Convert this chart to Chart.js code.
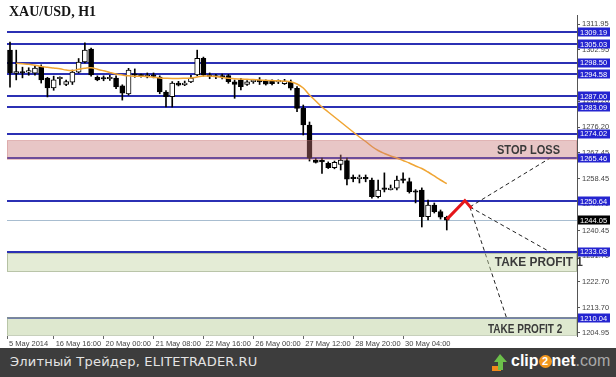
<!DOCTYPE html>
<html><head><meta charset="utf-8">
<script src="https://cdn.jsdelivr.net/npm/chart.js@4"></script>
<style>
html,body{margin:0;padding:0;background:#fff;}
#wrap{position:relative;width:616px;height:377px;overflow:hidden;background:#fff;}
#c{position:absolute;left:0;top:0;}
#title{position:absolute;left:9px;top:4px;font:bold 14px "Liberation Serif",serif;color:#151515;}
#foot{position:absolute;left:0;top:348px;width:616px;height:29px;background:#3d3d3d;}
#foot .t{position:absolute;left:10px;top:6px;font:13px "DejaVu Sans",sans-serif;color:#e4e4e4;white-space:nowrap;letter-spacing:0.2px;}
#logo{position:absolute;left:491px;top:4px;height:20px;white-space:nowrap;font:bold 16px "Liberation Sans",Arial,sans-serif;color:#fff;}
#logo svg{position:absolute;left:0;top:1px;}
#logo .w{position:absolute;left:20px;top:0;}
#logo .two{display:inline-block;width:13px;height:13px;border-radius:50%;background:#f2961c;color:#fff;font-size:11px;line-height:13px;text-align:center;vertical-align:1px;}
#logo .com{font-weight:normal;color:#a9a9a9;}
</style></head>
<body><div id="wrap">
<canvas id="c" width="616" height="348"></canvas>
<div id="title">XAU/USD, H1</div>
<div id="foot"><div class="t">Элитный Трейдер, ELITETRADER.RU</div>
<div id="logo"><svg width="18" height="20" viewBox="0 0 18 20"><rect x="1" y="13" width="9" height="5" fill="#f08a1a"/><polygon points="9,1 16,9 12,9 12,17 7,17 7,9 3,9" fill="#6cc04a"/></svg><span class="w">clip<span class="two">2</span>net<span class="com">.com</span></span></div>
</div>
</div>
<script>
// ---- data ----
const opens  = [1302.95,1294.8,1295.3,1295.3,1294.9,1297.1,1293.2,1289.8,1293.0,1291.0,1291.8,1295.3,1298.8,1303.3,1293.5,1293.0,1293.0,1293.2,1290.5,1287.7,1294.4,1294.1,1293.6,1294.0,1293.6,1288.4,1286.8,1291.5,1290.9,1291.9,1294.3,1300.1,1294.2,1293.8,1293.7,1294.05,1291.97,1292.56,1291.07,1292.0,1292.0,1292.2,1292.2,1291.9,1291.3,1291.76,1289.69,1282.76,1276.98,1264.86,1264.3,1263.7,1262.2,1263.3,1264.62,1258.9,1258.4,1258.6,1257.93,1252.15,1255.0,1254.6,1255.06,1258.1,1257.35,1254.1,1254.47,1245.23,1249.28,1246.96,1245.02];
const highs  = [1305.7,1302.9,1297.0,1296.8,1297.3,1297.8,1293.5,1293.9,1293.7,1292.5,1296.0,1300.0,1305.4,1303.6,1294.0,1294.0,1294.2,1294.0,1290.9,1296.6,1296.4,1294.6,1295.0,1295.0,1294.0,1288.9,1292.0,1292.1,1292.2,1294.2,1302.9,1300.5,1295.0,1294.5,1294.6,1294.53,1292.56,1293.15,1292.4,1292.8,1293.4,1292.6,1292.6,1292.6,1292.8,1292.56,1290.24,1283.9,1278.02,1265.45,1265.55,1264.2,1264.5,1266.59,1265.55,1259.67,1259.67,1259.67,1258.6,1257.93,1260.4,1256.2,1259.3,1260.4,1258.6,1254.6,1255.2,1251.0,1249.97,1247.55,1245.4];
const lows   = [1290.1,1292.6,1293.3,1294.2,1294.2,1291.5,1286.7,1289.0,1290.9,1290.6,1291.0,1295.0,1298.5,1293.9,1292.3,1292.3,1292.4,1289.6,1285.6,1287.3,1293.5,1293.5,1293.3,1293.3,1287.8,1283.2,1283.2,1290.5,1290.6,1291.6,1294.0,1293.9,1293.0,1293.0,1292.9,1291.42,1286.22,1289.1,1290.7,1291.4,1291.0,1290.8,1290.9,1291.3,1291.0,1289.1,1281.58,1273.52,1264.5,1263.8,1260.25,1261.9,1261.8,1261.4,1256.2,1257.3,1256.9,1257.3,1251.6,1251.7,1253.8,1254.47,1254.47,1256.9,1253.4,1250.0,1241.66,1244.08,1246.5,1244.4,1240.62];
const closes = [1294.98,1295.5,1295.0,1295.5,1296.7,1292.6,1289.8,1292.6,1293.3,1292.0,1295.3,1298.8,1302.9,1294.3,1292.6,1292.9,1293.2,1290.2,1288.0,1296.0,1294.2,1293.9,1294.3,1293.8,1288.4,1286.8,1291.5,1290.8,1291.5,1293.2,1300.1,1294.3,1293.8,1293.6,1293.6,1291.97,1291.07,1290.24,1291.97,1292.2,1291.9,1291.1,1291.3,1292.0,1292.2,1289.69,1282.76,1276.98,1265.45,1264.06,1264.2,1262.2,1264.06,1264.86,1258.18,1258.4,1258.7,1258.3,1252.15,1254.47,1254.7,1254.8,1257.93,1257.8,1253.9,1253.7,1245.23,1249.28,1246.96,1245.02,1244.05];
const maValues = [null,1298.34,1298.17,1298.0,1297.68,1297.23,1296.99,1296.71,1296.44,1296.02,1295.85,1296.26,1296.61,1296.78,1296.30,1295.75,1295.16,1294.64,1294.29,1294.01,1293.88,1293.84,1293.77,1293.53,1293.25,1293.15,1293.08,1293.08,1293.15,1293.25,1293.60,1293.95,1293.95,1293.77,1293.43,1293.15,1292.97,1292.91,1292.80,1292.70,1292.56,1292.46,1292.35,1292.28,1292.14,1291.94,1291.17,1289.79,1287.37,1285.29,1283.21,1281.48,1279.75,1278.02,1276.29,1274.55,1272.82,1271.26,1269.53,1268.15,1267.11,1266.24,1265.55,1264.69,1263.82,1262.78,1261.92,1260.70,1259.32,1257.93,1256.65];
const xTickIndex  = [7,15,23,31,39,47,55,63];
const xTickLabels = ['16 May 16:00','20 May 00:00','21 May 08:00','22 May 16:00','26 May 00:00','27 May 12:00','28 May 20:00','30 May 04:00'];
const firstTickLabel = '5 May 2014';
const yTickValues = [1311.95,1302.95,1294.20,1285.20,1276.20,1267.45,1258.45,1249.70,1240.45,1231.70,1222.70,1213.70,1204.95];
const levelValues = [1309.19,1305.03,1298.50,1294.58,1287.00,1283.09,1274.02,1265.46,1250.64,1233.08,1210.04];
const currentPrice = 1244.05;
const stopLossBand = [1271.7,1265.1];
const tp1Band = [1232.6,1226.2];
const tp2Band = [1210.4,1204.2];
const arrowX = [70,72.9,74.0];
const arrowY = [1244.3,1250.8,1248.1];
const projFrom = {x:73.7, y:1248.6};
const projToX = [86.5,86.5,79.6];
const projToY = [1265.46,1233.08,1210.04];
const bandTexts = ['STOP LOSS','TAKE PROFIT 1','TAKE PROFIT 2'];
const bandTextX = [78.05,77.7,76.6];
const bandTextY = [1266.95,1228.15,1205.06];
const bandTextSpan = [10.1,14.1,11.9];   // text extent in candle units

// ---- scale limits ----
const xMin = -0.48, xMax = 90.87, yMin = 1203.91, yMax = 1315.07;

const bodies = opens.map((o,i)=>({x:i, y:[Math.min(o,closes[i]), Math.max(o,closes[i])]}));
const wicks  = opens.map((o,i)=>({x:i, y:[lows[i], highs[i]]}));
const bodyColors = opens.map((o,i)=> closes[i] >= o ? '#ffffff' : '#000000');
const maData = maValues.map((v,i)=>({x:i,y:v})).filter(p=>p.y!==null);
const arrowData = arrowX.map((x,i)=>({x, y:arrowY[i]}));

const projSets = projToX.map((x,i)=>({
  type:'line', data:[projFrom,{x, y:projToY[i]}], borderColor:'#222', borderWidth:1,
  borderDash:[4,3], pointRadius:0, fill:false, order:-1
}));

const levelsPlugin = {
  id:'levels',
  beforeDatasetsDraw(chart){
    const {ctx, chartArea:a, scales:{y}} = chart;
    ctx.save();
    ctx.beginPath(); ctx.rect(a.left, a.top, a.right-a.left, a.bottom-a.top); ctx.clip();
    let py = Math.round(y.getPixelForValue(currentPrice))+0.5;
    ctx.strokeStyle='#a8bdd0'; ctx.lineWidth=1;
    ctx.beginPath(); ctx.moveTo(a.left,py); ctx.lineTo(a.right,py); ctx.stroke();
    ctx.strokeStyle='#2b30b4'; ctx.lineWidth=2;
    levelValues.forEach(v=>{
      const p = Math.round(y.getPixelForValue(v));
      ctx.beginPath(); ctx.moveTo(a.left,p); ctx.lineTo(a.right,p); ctx.stroke();
    });
    ctx.restore();
  },
  afterDatasetsDraw(chart){
    const {ctx, chartArea:a, scales:{y}} = chart;
    ctx.save();
    const band=(b,fill,stroke)=>{
      const t=y.getPixelForValue(b[0]), bt=y.getPixelForValue(b[1]);
      ctx.fillStyle=fill; ctx.fillRect(a.left,t,a.right-a.left,bt-t);
      ctx.strokeStyle=stroke; ctx.lineWidth=1;
      ctx.strokeRect(a.left+0.5,Math.round(t)+0.5,a.right-a.left-1,Math.round(bt-t));
    };
    band(stopLossBand,'rgba(200,120,120,0.42)','rgba(200,120,120,0.35)');
    band(tp1Band,'rgba(195,213,165,0.45)','rgba(150,165,130,0.6)');
    band(tp2Band,'rgba(190,210,160,0.5)','rgba(150,165,130,0.5)');
    ctx.restore();
  },
  afterDraw(chart){
    const {ctx, chartArea:a, scales:{x,y}} = chart;
    ctx.save();
    ctx.fillStyle='#3a3a3a';
    ctx.font='bold 12.5px "Liberation Sans",sans-serif';
    ctx.textAlign='left'; ctx.textBaseline='alphabetic';
    bandTexts.forEach((t,i)=>{
      const x0 = x.getPixelForValue(bandTextX[i]);
      const w = x.getPixelForValue(bandTextX[i]+bandTextSpan[i]) - x0;
      ctx.fillText(t, x0, y.getPixelForValue(bandTextY[i]), w);
    });
    ctx.font='7.5px "Liberation Sans",sans-serif';
    ctx.textBaseline='middle';
    const box=(v,col)=>{
      const p=y.getPixelForValue(v);
      ctx.fillStyle=col; ctx.fillRect(a.right+1, Math.round(p)-4.5, 32, 9);
      ctx.fillStyle='#ffffff'; ctx.fillText(v.toFixed(2), a.right+3, p+0.5);
    };
    levelValues.forEach(v=>box(v,'#2424d0'));
    box(currentPrice,'#000000');
    ctx.restore();
  }
};

new Chart(document.getElementById('c'), {
  type:'bar',
  data:{ datasets:[
    {type:'line', data:maData, borderColor:'#f0a533', borderWidth:1.5, pointRadius:0, tension:0.4, fill:false, order:0},
    {type:'line', data:arrowData, borderColor:'#e5161a', borderWidth:3, pointRadius:0, fill:false, order:-2},
    ...projSets,
    {type:'bar', data:bodies, backgroundColor:bodyColors, borderColor:'#000', borderWidth:1, borderSkipped:false, barThickness:5, minBarLength:1.5, grouped:false, order:1},
    {type:'bar', data:wicks, backgroundColor:'#000', borderWidth:0, barThickness:1, grouped:false, order:2}
  ]},
  options:{
    responsive:false, animation:false, devicePixelRatio:1,
    layout:{padding:{left:7,right:0,top:15,bottom:0}},
    plugins:{legend:{display:false}, tooltip:{enabled:false}},
    scales:{
      x:{type:'linear', min:xMin, max:xMax, offset:false,
        grid:{drawOnChartArea:false, drawTicks:true, tickLength:3, color:'#666', offset:false},
        border:{display:false},
        ticks:{font:{size:7.5, family:'"Liberation Sans", sans-serif'}, color:'#444', padding:0, maxRotation:0, autoSkip:false, align:'start', labelOffset:2,
          callback:(v)=>{ if (v===xMin) return firstTickLabel; const k=xTickIndex.indexOf(v); return k>=0?xTickLabels[k]:''; }},
        afterBuildTicks:(s)=>{ s.ticks=[{value:xMin}].concat(xTickIndex.map(v=>({value:v}))); },
        afterFit:(s)=>{ s.height=12; }
      },
      y:{type:'linear', position:'right', min:yMin, max:yMax,
        grid:{drawOnChartArea:false, drawTicks:true, tickLength:3, color:'#555'},
        border:{display:true, color:'#555', width:1},
        ticks:{font:{size:7.5, family:'"Liberation Sans", sans-serif'}, color:'#444', padding:2, autoSkip:false,
          callback:(v)=>Number(v).toFixed(2)},
        afterBuildTicks:(s)=>{ s.ticks=yTickValues.map(v=>({value:v})); },
        afterFit:(s)=>{ s.width=39; }
      }
    }
  },
  plugins:[levelsPlugin]
});
</script>
</body></html>
